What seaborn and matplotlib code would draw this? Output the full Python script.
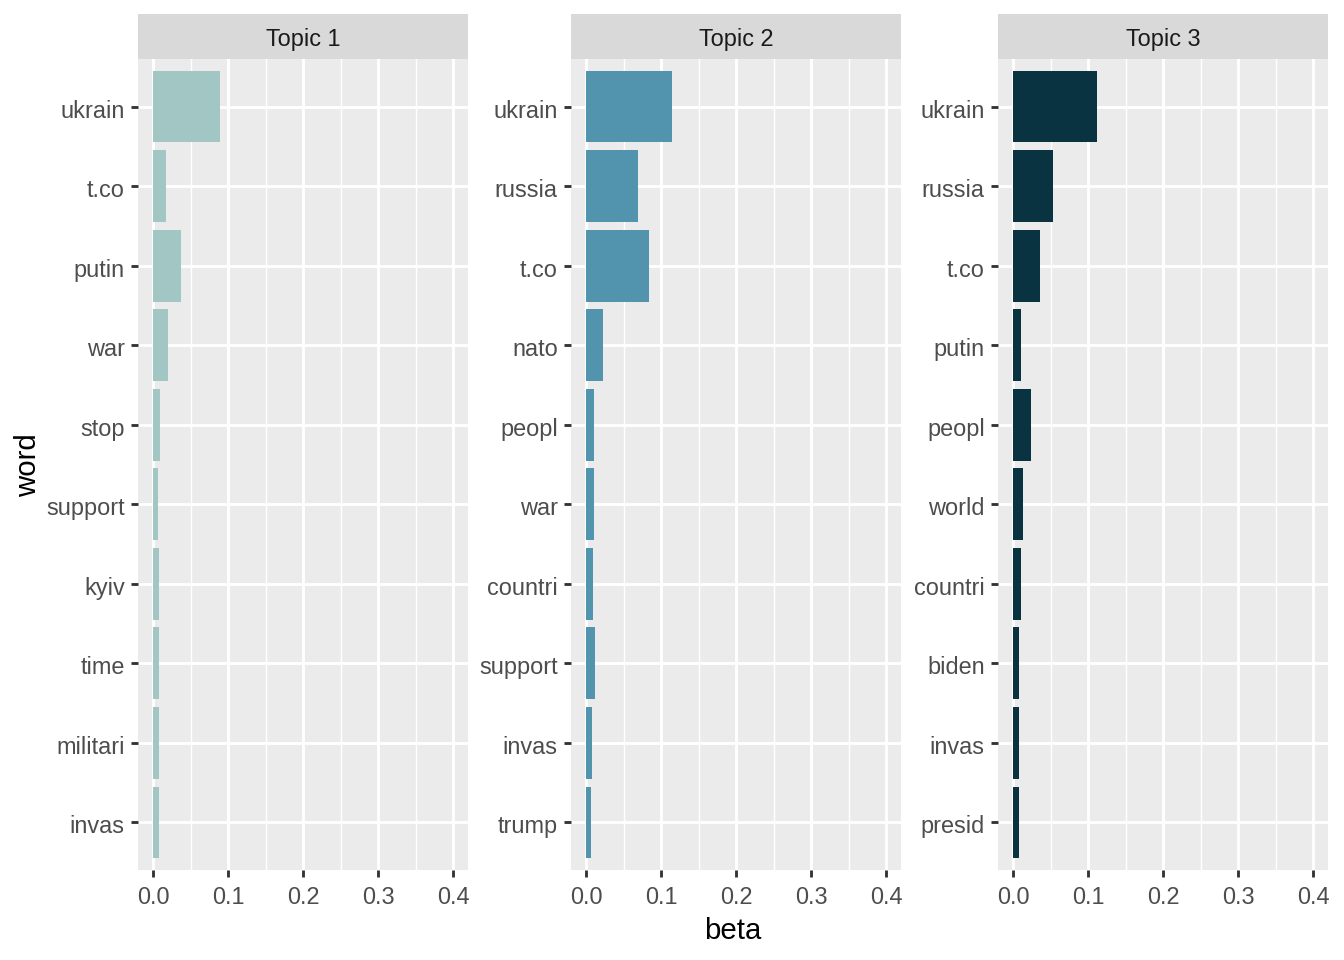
import matplotlib
matplotlib.use("Agg")
import matplotlib.pyplot as plt
import matplotlib.transforms as mtransforms
from matplotlib.patches import Rectangle
import seaborn as sns
import pandas as pd

# ---- data ----
topics = ["Topic 1", "Topic 2", "Topic 3"]
words1 = ["ukrain", "t.co", "putin", "war", "stop", "support", "kyiv", "time", "militari", "invas"]
beta1 = [0.089, 0.017, 0.037, 0.020, 0.009, 0.007, 0.008, 0.008, 0.008, 0.008]
words2 = ["ukrain", "russia", "t.co", "nato", "peopl", "war", "countri", "support", "invas", "trump"]
beta2 = [0.115, 0.069, 0.084, 0.023, 0.011, 0.011, 0.009, 0.012, 0.008, 0.007]
words3 = ["ukrain", "russia", "t.co", "putin", "peopl", "world", "countri", "biden", "invas", "presid"]
beta3 = [0.112, 0.053, 0.036, 0.011, 0.024, 0.013, 0.011, 0.008, 0.008, 0.008]
colors = ["#A1C6C3", "#5294AD", "#0A3341"]
x_ticks = [0.0, 0.1, 0.2, 0.3, 0.4]
x_tick_labels = ["0.0", "0.1", "0.2", "0.3", "0.4"]
x_minor = [0.05, 0.15, 0.25, 0.35]

plt.rcParams["font.family"] = ["Liberation Sans", "DejaVu Sans"]

W, H = 1344, 960
DPI = 192
fig = plt.figure(figsize=(7, 5), dpi=DPI, facecolor="white")

panel_lr = [(138, 468), (571, 901), (998, 1328)]
top_px, bot_px = 59, 870
strip_h = 45

all_words = [words1, words2, words3]
all_beta = [beta1, beta2, beta3]

ylab_shift = mtransforms.ScaledTranslation(0, -2.0 / DPI, fig.dpi_scale_trans)
xlab_shift = mtransforms.ScaledTranslation(0, -3.0 / DPI, fig.dpi_scale_trans)

for i, (l, r) in enumerate(panel_lr):
    ax = fig.add_axes([l / W, 1 - bot_px / H, (r - l) / W, (bot_px - top_px) / H])
    ax.set_facecolor("#EBEBEB")
    for s in ax.spines.values():
        s.set_visible(False)
    df = pd.DataFrame({"word": all_words[i], "beta": all_beta[i]})
    ax.set_axisbelow(True)
    sns.barplot(data=df, x="beta", y="word", orient="h", color=colors[i],
                saturation=1, width=0.9, ax=ax, errorbar=None, linewidth=0)
    ax.set_xlim(-0.02, 0.42)
    ax.set_ylim(9.6, -0.6)
    ax.set_xticks(x_ticks)
    ax.set_xticklabels(x_tick_labels)
    ax.set_xticks(x_minor, minor=True)
    ax.grid(which="major", axis="both", color="white", linewidth=1.07)
    ax.grid(which="minor", axis="x", color="white", linewidth=0.53)
    ax.tick_params(which="major", length=2.75, width=1.07, color="#333333",
                   labelsize=8.8, labelcolor="#4D4D4D", pad=2.2)
    ax.tick_params(which="minor", length=0)
    ax.set_xlabel("")
    ax.set_ylabel("")
    for lab in ax.get_yticklabels():
        lab.set_transform(lab.get_transform() + ylab_shift)
    for lab in ax.get_xticklabels():
        lab.set_transform(lab.get_transform() + xlab_shift)
    # facet strip
    ax.add_patch(Rectangle((0, 1), 1, strip_h / (bot_px - top_px), transform=ax.transAxes,
                           facecolor="#D9D9D9", edgecolor="none", clip_on=False))
    ax.text(0.5, 1 + (strip_h / 2 - 3) / (bot_px - top_px), topics[i], transform=ax.transAxes,
            ha="center", va="center", fontsize=8.8, color="#1A1A1A")

fig.text(733 / W, 1 - 931 / H, "beta", ha="center", va="center", fontsize=11, color="black")
fig.text(28 / W, 1 - 465 / H, "word", ha="center", va="center", rotation=90, fontsize=11, color="black")

fig.savefig("out.png", dpi=DPI, facecolor="white")
